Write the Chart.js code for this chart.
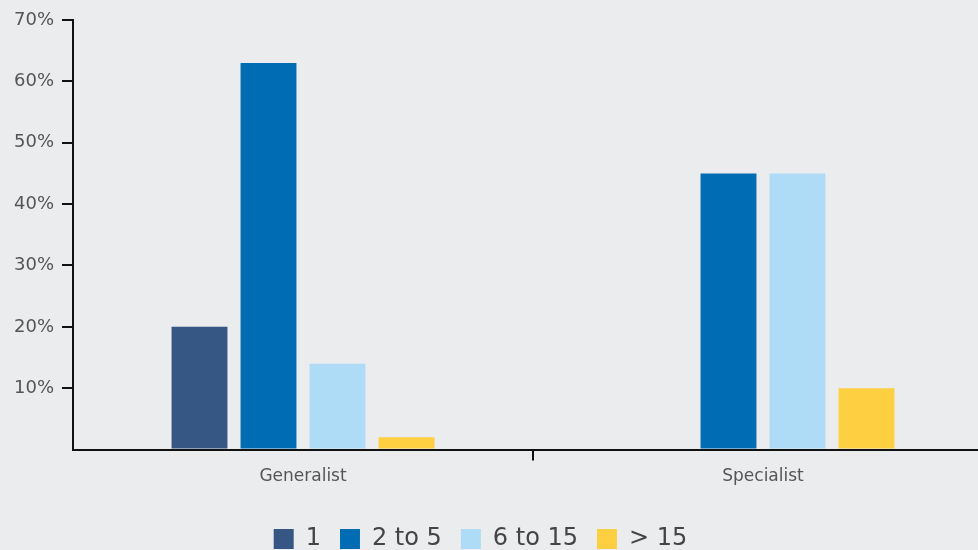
<!DOCTYPE html>
<html>
<head>
<meta charset="utf-8">
<script src="https://cdn.jsdelivr.net/npm/chart.js@4.4.0/dist/chart.umd.min.js"></script>
<style>
  html, body { margin: 0; padding: 0; background: #ebecee; overflow: hidden; }
  #wrap { position: relative; width: 993px; height: 550px; }
</style>
</head>
<body>
<div id="wrap"><canvas id="chart"></canvas></div>
<script>
const categories = ["Generalist", "Specialist"];
const seriesNames = ["1", "2 to 5", "6 to 15", "> 15"];
const size1 = [20, 0];
const size2to5 = [63, 45];
const size6to15 = [14, 45];
const sizeOver15 = [2, 10];
const seriesColors = ["#365684", "#006cb4", "#aedbf5", "#fecf41"];
const yTicks = [0, 10, 20, 30, 40, 50, 60, 70];

const FONT = "'DejaVu Sans', 'Noto Sans', sans-serif";

// no tick mark where the two axes meet
const hideFirst = ctx => (ctx.index === 0 ? "rgba(0,0,0,0)" : "#111");

// nudge the legend so it sits where the original had it
const legendShift = {
  id: "legendShift",
  afterLayout(chart) {
    const lg = chart.legend;
    if (lg) {
      lg.left -= 16; lg.right -= 16;
      lg.top += 15; lg.bottom += 15;
    }
  }
};

const ctx = document.getElementById("chart");
new Chart(ctx, {
  type: "bar",
  data: {
    labels: categories,
    datasets: [size1, size2to5, size6to15, sizeOver15].map((d, i) => ({
      label: seriesNames[i],
      data: d,
      backgroundColor: seriesColors[i],
      borderWidth: 0,
      categoryPercentage: 0.6,
      barPercentage: 0.81
    }))
  },
  options: {
    responsive: true,
    maintainAspectRatio: false,
    animation: false,
    layout: { padding: { top: 20, right: 0, left: 0, bottom: 4 } },
    plugins: {
      tooltip: { enabled: false },
      legend: {
        position: "bottom",
        labels: {
          boxWidth: 20,
          boxHeight: 20,
          padding: 19,
          color: "#444",
          font: { family: FONT, size: 24 }
        }
      }
    },
    scales: {
      x: {
        grid: {
          display: true,
          offset: true,
          drawOnChartArea: false,
          drawTicks: true,
          tickLength: 11,
          color: hideFirst,
          lineWidth: 2
        },
        border: { display: true, color: "#111", width: 2 },
        ticks: {
          color: "#555",
          padding: 6,
          font: { family: FONT, size: 17 }
        }
      },
      y: {
        min: 0,
        max: 70,
        afterFit(scale) { scale.width = 73; },
        afterBuildTicks(scale) { scale.ticks = yTicks.map(v => ({ value: v })); },
        grid: {
          display: true,
          drawOnChartArea: false,
          drawTicks: true,
          tickLength: 11,
          color: hideFirst,
          lineWidth: 2
        },
        border: { display: true, color: "#111", width: 2 },
        ticks: {
          color: "#555",
          padding: 8,
          font: { family: FONT, size: 18 },
          callback: v => (v === 0 ? "" : v + "%")
        }
      }
    }
  },
  plugins: [legendShift]
});
</script>
</body>
</html>
